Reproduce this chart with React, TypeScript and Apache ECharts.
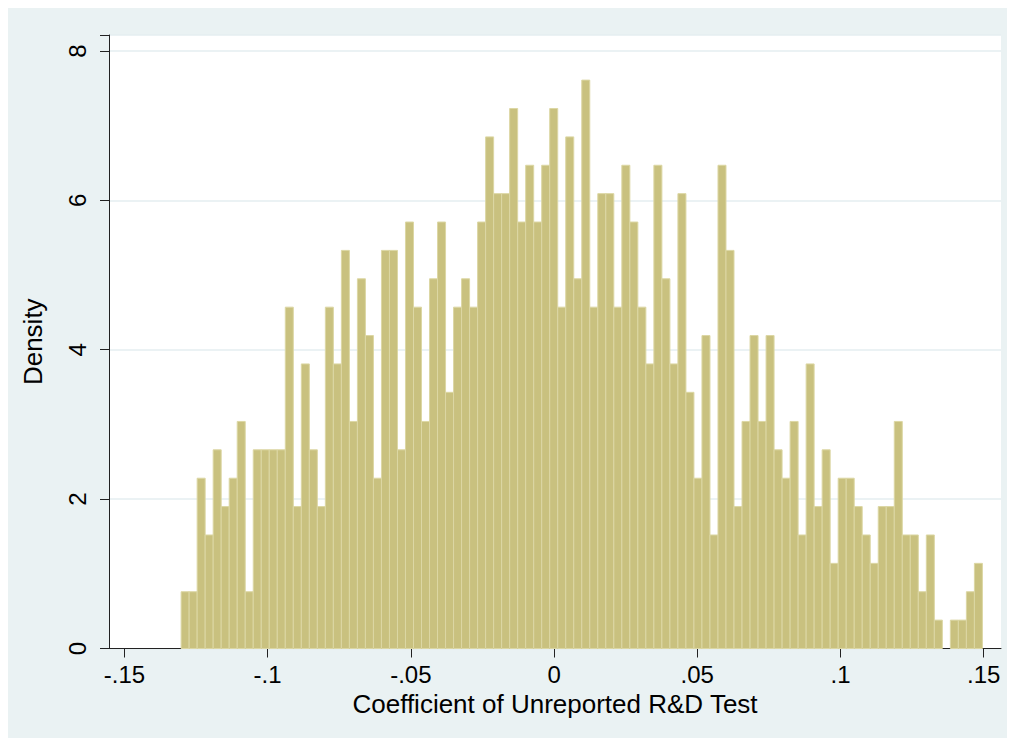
import React, { useEffect, useRef } from "react";
import * as echarts from "echarts";

// Histogram bins (density), left to right
const binStart = -0.1302;
const binWidth = 0.0027975;
const density: number[] = [
  0.76, 0.76, 2.28, 1.52, 2.66, 1.90, 2.28, 3.04, 0.76, 2.66,
  2.66, 2.66, 2.66, 4.57, 1.90, 3.81, 2.66, 1.90, 4.57, 3.81,
  5.33, 3.04, 4.95, 4.19, 2.28, 5.33, 5.33, 2.66, 5.71, 4.57,
  3.04, 4.95, 5.71, 3.43, 4.57, 4.95, 4.57, 5.71, 6.85, 6.09,
  6.09, 7.23, 5.71, 6.47, 5.71, 6.47, 7.23, 4.57, 6.85, 4.95,
  7.61, 4.57, 6.09, 6.09, 4.57, 6.47, 5.71, 4.57, 3.81, 6.47,
  4.95, 3.81, 6.09, 3.43, 2.28, 4.19, 1.52, 6.47, 5.33, 1.90,
  3.04, 4.19, 3.04, 4.19, 2.66, 2.28, 3.04, 1.52, 3.81, 1.90,
  2.66, 1.14, 2.28, 2.28, 1.90, 1.52, 1.14, 1.90, 1.90, 3.04,
  1.52, 1.52, 0.76, 1.52, 0.38, 0, 0.38, 0.38, 0.76, 1.14,
];

const xTickValues = [-0.15, -0.1, -0.05, 0, 0.05, 0.1, 0.15];
const xTickLabels = ["-.15", "-.1", "-.05", "0", ".05", ".1", ".15"];
const yTickValues = [0, 2, 4, 6, 8];

const xTitle = "Coefficient of Unreported R&D Test";
const yTitle = "Density";

const FONT = "'Liberation Sans', Arial, Helvetica, sans-serif";

export default function App() {
  const ref = useRef<HTMLDivElement>(null);

  useEffect(() => {
    document.documentElement.style.overflow = "hidden";
    if (!ref.current) return;
    const chart = echarts.init(ref.current, undefined, { renderer: "svg" });

    const data = density.map((d, i) => [
      binStart + i * binWidth,
      binStart + (i + 1) * binWidth,
      d,
    ]);

    chart.setOption({
      animation: false,
      backgroundColor: "#eaf2f3",
      textStyle: { fontFamily: FONT },
      grid: {
        left: 101,
        top: 27,
        right: 14,
        bottom: 89.5,
        show: true,
        backgroundColor: "#ffffff",
        borderWidth: 0,
      },
      xAxis: {
        type: "value",
        min: -0.15538,
        max: 0.15604,
        name: xTitle,
        nameLocation: "middle",
        nameGap: 40,
        nameTextStyle: { fontSize: 26, color: "#000", fontFamily: FONT },
        axisLine: { show: true, onZero: false, lineStyle: { color: "#222", width: 1 } },
        axisTick: {
          show: true,
          length: 9,
          customValues: xTickValues,
          lineStyle: { color: "#222", width: 1 },
        },
        axisLabel: {
          customValues: xTickValues,
          fontSize: 24,
          color: "#000",
          margin: 14,
          fontFamily: FONT,
          formatter: (v: number) => {
            let best = 0;
            xTickValues.forEach((t, i) => {
              if (Math.abs(t - v) < Math.abs(xTickValues[best] - v)) best = i;
            });
            return xTickLabels[best];
          },
        },
        splitLine: { show: false },
      },
      yAxis: {
        type: "value",
        min: 0,
        max: 8.214,
        interval: 2,
        name: yTitle,
        nameLocation: "middle",
        nameGap: 63,
        nameTextStyle: { fontSize: 26, color: "#000", fontFamily: FONT },
        axisLine: { show: true, onZero: false, lineStyle: { color: "#222", width: 1 } },
        axisTick: { show: true, length: 9, lineStyle: { color: "#222", width: 1 } },
        axisLabel: {
          rotate: 90,
          fontSize: 24,
          color: "#000",
          margin: 20,
          fontFamily: FONT,
          formatter: (v: number) => (yTickValues.includes(v) ? String(v) : ""),
        },
        splitLine: { show: true, lineStyle: { color: "#e5eef0", width: 1.5 } },
      },
      series: [
        {
          type: "custom",
          data,
          encode: { x: [0, 1], y: 2 },
          renderItem: (params: any, api: any) => {
            const x0 = api.value(0);
            const x1 = api.value(1);
            const y = api.value(2);
            if (!y) return null;
            const p0 = api.coord([x0, y]);
            const p1 = api.coord([x1, 0]);
            return {
              type: "rect",
              shape: { x: p0[0], y: p0[1], width: p1[0] - p0[0], height: p1[1] - p0[1] },
              style: { fill: "#c9c17f", stroke: "#dcd7a4", lineWidth: 1 },
            };
          },
        },
      ],
    });

    return () => chart.dispose();
  }, []);

  return (
    <div
      ref={ref}
      style={{ width: 1007, height: 730, background: "#eaf2f3" }}
    />
  );
}
